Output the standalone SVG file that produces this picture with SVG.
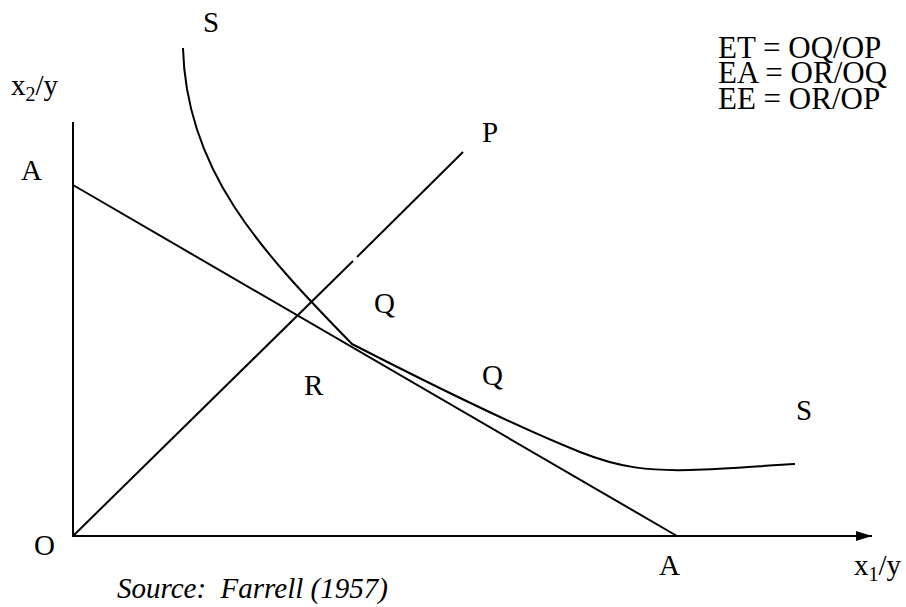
<svg xmlns="http://www.w3.org/2000/svg" width="906" height="607" viewBox="0 0 906 607">
<defs>
<style>
.t{font-family:"Liberation Serif","Times New Roman",serif;font-size:29px;fill:#000}
.f{font-size:31px}
.i{font-style:italic}
.ln{stroke:#000;stroke-width:2;fill:none}
</style>
<marker id="arr" viewBox="0 0 16 10" refX="16" refY="5" markerWidth="16" markerHeight="10" markerUnits="userSpaceOnUse" orient="auto">
<path d="M0,0 L16,5 L0,10 Z" fill="#000"/>
</marker>
</defs>
<rect width="906" height="607" fill="#fff"/>
<g id="connectors">
<line id="y-axis" class="ln" x1="73" y1="122" x2="73" y2="537" stroke-width="2.5"/>
<line id="x-axis" class="ln" x1="72" y1="536" x2="872" y2="536" stroke-width="2.5" marker-end="url(#arr)"/>
<line id="line-AA" class="ln" x1="73" y1="185" x2="677" y2="536"/>
<line id="ray-OP-1" class="ln" x1="73" y1="536" x2="353" y2="261"/>
<line id="ray-OP-2" class="ln" x1="357" y1="257" x2="463" y2="152"/>
<path id="isoquant-SS" class="ln" d="M183,48 C186,170 260,250 352,344 C430,384 520,428 580,452 C620,468 650,471 690,470 C730,469 770,465 795,464"/>
</g>
<g id="label-S-top"><text class="t" x="203" y="32">S</text></g>
<g id="label-x2y"><text class="t" x="11" y="95">x<tspan font-size="20" dy="6">2</tspan><tspan dy="-6">/y</tspan></text></g>
<g id="label-A-left"><text class="t" x="21" y="180">A</text></g>
<g id="label-P"><text class="t" x="482" y="142">P</text></g>
<g id="label-Q-upper"><text class="t" x="374" y="313">Q</text></g>
<g id="label-R"><text class="t" x="304" y="395">R</text></g>
<g id="label-Q-lower"><text class="t" x="482" y="385">Q</text></g>
<g id="label-S-right"><text class="t" x="796" y="420">S</text></g>
<g id="label-O"><text class="t" x="34" y="555">O</text></g>
<g id="label-A-bottom"><text class="t" x="659" y="575">A</text></g>
<g id="label-x1y"><text class="t" x="854" y="575">x<tspan font-size="20" dy="6">1</tspan><tspan dy="-6">/y</tspan></text></g>
<g id="formulas">
<text class="t f" x="718" y="58">ET = OQ/OP</text>
<text class="t f" x="718" y="83">EA = OR/OQ</text>
<text class="t f" x="718" y="109">EE = OR/OP</text>
</g>
<g id="source"><text class="t i" x="117" y="598" xml:space="preserve">Source:  Farrell (1957)</text></g>
</svg>
